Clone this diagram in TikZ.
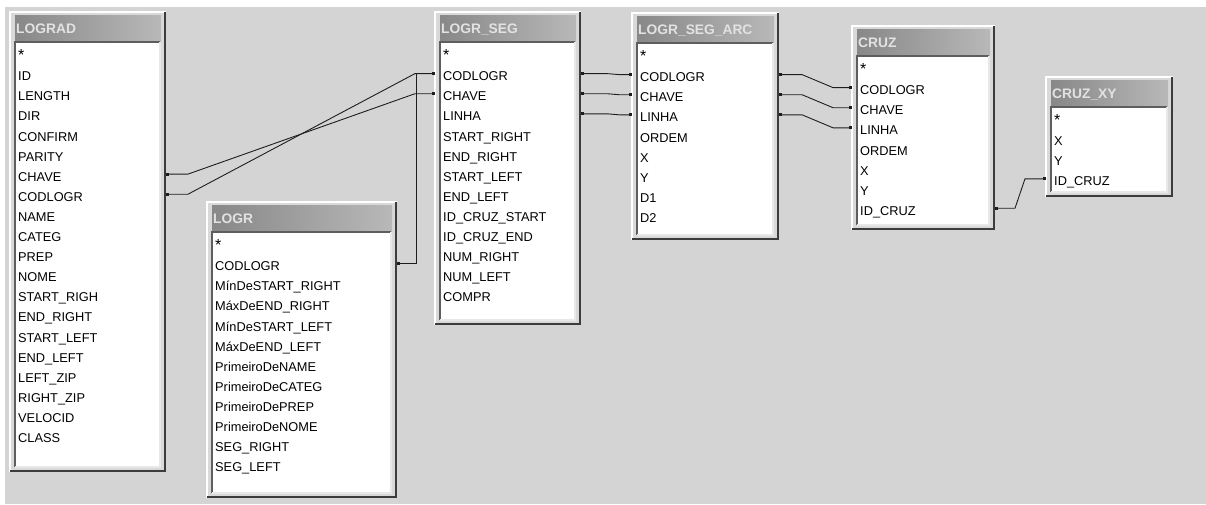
\documentclass[tikz,border=0pt]{standalone}
\usepackage{fontspec}
\setmainfont{Liberation Sans}
\usetikzlibrary{calc,arrows.meta}
\definecolor{bgc}{HTML}{D4D4D4}
\definecolor{framec}{HTML}{D9D9D9}
\definecolor{darkc}{HTML}{3C3C3C}
\definecolor{hdA}{HTML}{888888}
\definecolor{hdB}{HTML}{B8B8B8}
\definecolor{ttl}{HTML}{E2E2E2}
\definecolor{linec}{HTML}{1E1E1E}
\definecolor{sunkc}{HTML}{5E5E5E}
\definecolor{sunkl}{HTML}{E8E8E8}
\newcommand{\rowfont}{\fontsize{12.8}{14}\selectfont}
\newcommand{\ttlfont}{\fontsize{13.8}{15}\selectfont\bfseries}
\newcommand{\bigast}{{\fontsize{16}{16}\selectfont *}}
\newcommand{\dbtab}[7]{%
  \node[tframe, minimum width={#4-#2}, minimum height={#5-#3}] (#1) at ({(#2+#4)/2},{(#3+#5)/2}) {};
  \draw[hilite] (#1.south west) -- (#1.north west) -- (#1.north east);
  \draw[shadow] ([xshift=-1pt]#1.north east) -- ([xshift=-1pt,yshift=1pt]#1.south east) -- ([yshift=1pt]#1.south west);
  \node[thead, minimum width={#4-#2-10}, minimum height=26] (#1-h) at ({(#2+#4)/2},{#3+16}) {};
  \node[ttitle] (#1-t) at ({#2+6},{#3+16.5}) {#6};
  \node[tbox, minimum width={#4-#2-11}, minimum height={#5-#3-35}] (#1-b) at ({(#2+#4)/2-0.5},{(#3+#5+25)/2}) {};
  \draw[sunk] (#1-b.south west) -- (#1-b.north west) -- (#1-b.north east);
  \draw[sunklt] (#1-b.north east) -- (#1-b.south east) -- (#1-b.south west);
  \foreach \t [count=\i from 0] in {#7} \node[trow] (#1-\i) at ({#2+8},{#3+44+20.1*\i}) {\t};
}
\newcommand{\ep}[3]{\coordinate (#1) at ($(#2 |- #3.west)+(0,-2.5)$);}
\begin{document}
\begin{tikzpicture}[x=1pt,y=-1pt,
  tframe/.style={rectangle, inner sep=0, outer sep=0, fill=framec},
  hilite/.style={draw=white, line width=1.2pt},
  shadow/.style={draw=darkc, line width=2pt},
  thead/.style={rectangle, inner sep=0, outer sep=0, left color=hdA, right color=hdB},
  ttitle/.style={anchor=west, inner sep=0, text=ttl, font=\ttlfont, text height=9.8pt, text depth=0pt},
  tbox/.style={rectangle, inner sep=0, outer sep=0, fill=white},
  sunk/.style={draw=sunkc, line width=1.4pt},
  sunklt/.style={draw=sunkl, line width=1.2pt},
  trow/.style={anchor=west, inner sep=0, font=\rowfont, text height=9.2pt, text depth=0pt},
  conn/.style={draw=linec, line width=0.9pt, {Square[length=3pt,width=3pt]}-{Square[length=3pt,width=3pt]}}
]
\useasboundingbox (0,0) rectangle (1206,504);
\fill[white] (0,0) rectangle (1206,504);
\fill[bgc] (5,7) rectangle (1206,504);

\dbtab{ad}{10}{12}{166}{472}{LOGRAD}{\bigast,ID,LENGTH,DIR,CONFIRM,PARITY,CHAVE,CODLOGR,NAME,CATEG,PREP,NOME,START\_RIGH,END\_RIGHT,START\_LEFT,END\_LEFT,LEFT\_ZIP,RIGHT\_ZIP,VELOCID,CLASS}
\dbtab{lg}{207}{202}{397}{498}{LOGR}{\bigast,CODLOGR,MínDeSTART\_RIGHT,MáxDeEND\_RIGHT,MínDeSTART\_LEFT,MáxDeEND\_LEFT,PrimeiroDeNAME,PrimeiroDeCATEG,PrimeiroDePREP,PrimeiroDeNOME,SEG\_RIGHT,SEG\_LEFT}
\dbtab{ls}{435}{12}{581}{325}{LOGR\_SEG}{\bigast,CODLOGR,CHAVE,LINHA,START\_RIGHT,END\_RIGHT,START\_LEFT,END\_LEFT,ID\_CRUZ\_START,ID\_CRUZ\_END,NUM\_RIGHT,NUM\_LEFT,COMPR}
\dbtab{la}{632}{13}{779}{240}{LOGR\_SEG\_ARC}{\bigast,CODLOGR,CHAVE,LINHA,ORDEM,X,Y,D1,D2}
\dbtab{cz}{852}{26}{995}{230}{CRUZ}{\bigast,CODLOGR,CHAVE,LINHA,ORDEM,X,Y,ID\_CRUZ}
\dbtab{xy}{1046}{77}{1173}{197}{CRUZ\_XY}{\bigast,X,Y,ID\_CRUZ}

% end points
\ep{a6}{ad.east}{ad-6}
\ep{a7}{ad.east}{ad-7}
\ep{g1}{lg.east}{lg-1}
\ep{b1}{ls.west}{ls-1}
\ep{b2}{ls.west}{ls-2}
\ep{s1}{ls.east}{ls-1}
\ep{s2}{ls.east}{ls-2}
\ep{s3}{ls.east}{ls-3}
\ep{t1}{la.west}{la-1}
\ep{t2}{la.west}{la-2}
\ep{t3}{la.west}{la-3}
\ep{u1}{la.east}{la-1}
\ep{u2}{la.east}{la-2}
\ep{u3}{la.east}{la-3}
\ep{v1}{cz.west}{cz-1}
\ep{v2}{cz.west}{cz-2}
\ep{v3}{cz.west}{cz-3}
\ep{w7}{cz.east}{cz-7}
\ep{z3}{xy.west}{xy-3}

% connectors
\draw[conn] (a6) -- ++(22,0) -- ($(b2)+(-20,0)$) -- (b2);
\draw[conn] (a7) -- ++(22,0) -- ($(b1)+(-20,0)$) -- (b1);
\draw[conn] (g1) -- ++(19,0) |- (b1);
\draw[conn] (s1) -- ++(26,0) -- ($(t1)+(-13,0)$) -- (t1);
\draw[conn] (s2) -- ++(26,0) -- ($(t2)+(-13,0)$) -- (t2);
\draw[conn] (s3) -- ++(26,0) -- ($(t3)+(-13,0)$) -- (t3);
\draw[conn] (u1) -- ++(23,0) -- ($(v1)+(-19,0)$) -- (v1);
\draw[conn] (u2) -- ++(23,0) -- ($(v2)+(-19,0)$) -- (v2);
\draw[conn] (u3) -- ++(23,0) -- ($(v3)+(-19,0)$) -- (v3);
\draw[conn] (w7) -- ++(20,0) -- ($(z3)+(-21,0)$) -- (z3);
\end{tikzpicture}
\end{document}
